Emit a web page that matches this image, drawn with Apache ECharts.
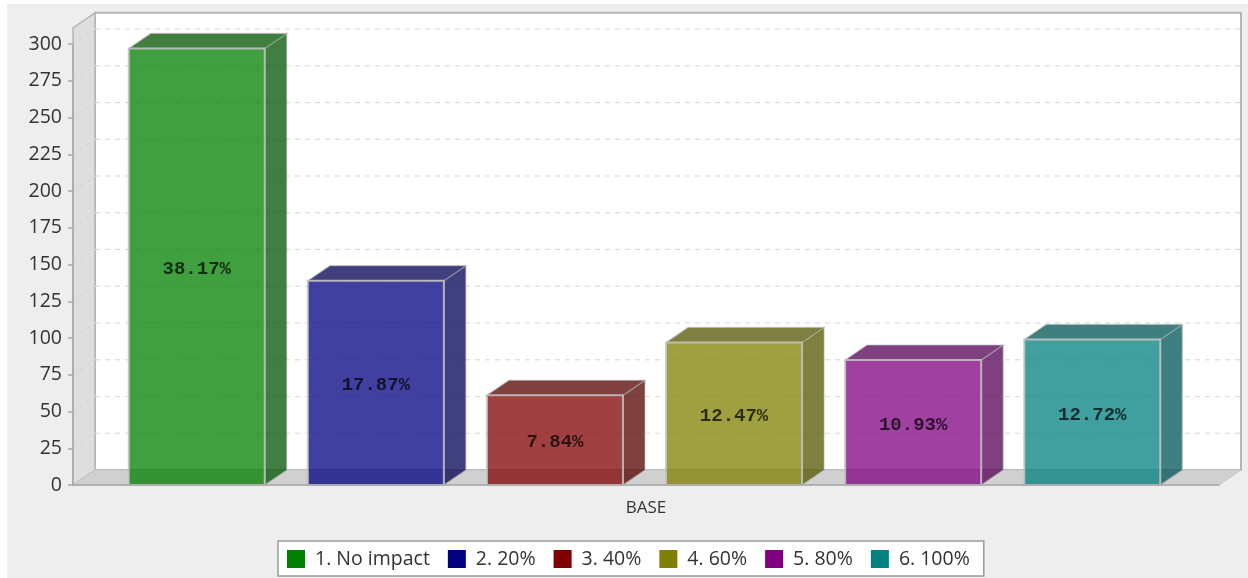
<!DOCTYPE html>
<html>
<head>
<meta charset="utf-8">
<style>
html,body{margin:0;padding:0;background:#fff;width:1248px;height:578px;overflow:hidden}
#bg{position:absolute;left:7px;top:4px;width:1241px;height:574px;background:#eeeeee}
#main{position:absolute;left:0;top:0;width:1248px;height:578px;filter:blur(0.45px)}
</style>
</head>
<body>
<div id="bg"></div>
<div id="main"></div>
<script src="https://cdn.jsdelivr.net/npm/echarts@6/dist/echarts.min.js"></script>
<script>
const categories = ['BASE'];
const seriesNames = ['1. No impact', '2. 20%', '3. 40%', '4. 60%', '5. 80%', '6. 100%'];
const seriesValues = [297, 139, 61, 97, 85, 99];
const shareLabels = ['38.17%', '17.87%', '7.84%', '12.47%', '10.93%', '12.72%'];
const seriesColors = ['#008000', '#000080', '#800000', '#808000', '#800080', '#008080'];
const yTicks = [0, 25, 50, 75, 100, 125, 150, 175, 200, 225, 250, 275, 300];
const wallTopValue = 311;

const DX = 22, DY = -15;          // 3D offset of the back plane
const BAR_FRAC = 136 / 1146;      // bar width as a share of the band
const PITCH_FRAC = 179.1 / 1146;  // bar pitch as a share of the band
const CENTER_SHIFT = -1.5;
const ALPHA = 0.75;
const FONT = '"Open Sans"';

function rgba(hex, factor, alpha) {
  const n = parseInt(hex.slice(1), 16);
  const r = Math.round(((n >> 16) & 255) * factor);
  const g = Math.round(((n >> 8) & 255) * factor);
  const b = Math.round((n & 255) * factor);
  return `rgba(${r},${g},${b},${alpha})`;
}

function renderWalls(params, api) {
  const left = api.coord([categories[0], 0])[0] - api.size([1, 0])[0] / 2;
  const bw = api.size([1, 0])[0];
  const right = left + bw;
  const y0 = api.coord([categories[0], 0])[1];
  const yTop = api.coord([categories[0], wallTopValue])[1];
  const stroke = '#b6b6b6';
  const children = [
    { type: 'rect', shape: { x: left + DX, y: yTop + DY, width: bw, height: y0 - yTop },
      style: { fill: '#ffffff', stroke: stroke, lineWidth: 2 } },
    { type: 'polygon', shape: { points: [[left, yTop], [left + DX, yTop + DY], [left + DX, y0 + DY], [left, y0]] },
      style: { fill: '#dedede', stroke: stroke, lineWidth: 1.5 } },
    { type: 'polygon', shape: { points: [[left, y0], [left + DX, y0 + DY], [right + DX, y0 + DY], [right, y0]] },
      style: { fill: '#d0d0d0', stroke: '#c4c4c4', lineWidth: 1 } }
  ];
  yTicks.forEach(function (t) {
    if (t === 0) return;
    const y = api.coord([categories[0], t])[1];
    children.push({ type: 'line', shape: { x1: left, y1: y, x2: left + DX, y2: y + DY },
      style: { stroke: '#d2d2d2', lineWidth: 1, lineDash: [4, 4] } });
    children.push({ type: 'line', shape: { x1: left + DX, y1: y + DY, x2: right + DX, y2: y + DY },
      style: { stroke: '#dcdcdc', lineWidth: 1.2, lineDash: [5, 5] } });
  });
  return { type: 'group', children: children };
}

function makeBarRenderer(index) {
  return function (params, api) {
    const bw = api.size([1, 0])[0];
    const c = api.coord([api.value(0), api.value(1)]);
    const y0 = api.coord([api.value(0), 0])[1];
    const w = bw * BAR_FRAC;
    const cx = c[0] + CENTER_SHIFT + (index - 2.5) * bw * PITCH_FRAC;
    const x1 = cx - w / 2, x2 = cx + w / 2, yt = c[1];
    const col = seriesColors[index];
    const edge = 'rgba(195,195,195,0.85)';
    return { type: 'group', children: [
      { type: 'polygon', shape: { points: [[x2, yt], [x2 + DX, yt + DY], [x2 + DX, y0 + DY], [x2, y0]] },
        style: { fill: rgba(col, 0.66, ALPHA), stroke: 'rgba(180,180,180,0.55)', lineWidth: 1.2 } },
      { type: 'polygon', shape: { points: [[x1, yt], [x1 + DX, yt + DY], [x2 + DX, yt + DY], [x2, yt]] },
        style: { fill: rgba(col, 0.66, ALPHA), stroke: 'rgba(180,180,180,0.55)', lineWidth: 1.2 } },
      { type: 'rect', shape: { x: x1, y: yt, width: w, height: y0 - yt },
        style: { fill: rgba(col, 1, ALPHA), stroke: edge, lineWidth: 2 } },
      { type: 'text', x: cx, y: (yt + y0) / 2 + 2.5,
        style: { text: shareLabels[index], fill: 'rgba(0,0,0,0.72)', align: 'center', verticalAlign: 'middle',
          font: 'bold 19px "Liberation Mono"' } }
    ] };
  };
}

const series = [{
  type: 'custom', name: 'walls', z: 1, silent: true,
  renderItem: renderWalls, clip: false,
  data: [[categories[0], 0]]
}];
seriesNames.forEach(function (name, i) {
  series.push({
    type: 'custom', name: name, z: 2, silent: true, clip: false,
    renderItem: makeBarRenderer(i),
    itemStyle: { color: seriesColors[i] },
    encode: { x: 0, y: 1 },
    data: [[categories[0], seriesValues[i]]]
  });
});

const chart = echarts.init(document.getElementById('main'), null, { renderer: 'canvas' });
chart.setOption({
  backgroundColor: 'transparent',
  animation: false,
  grid: { left: 73, right: 29, top: 44, bottom: 93, containLabel: false },
  xAxis: {
    type: 'category', data: categories, z: 5,
    axisLine: { lineStyle: { color: '#a8a8a8', width: 1.5 } },
    axisTick: { show: false },
    axisLabel: { color: '#333', fontFamily: FONT, fontSize: 17, margin: 15 }
  },
  yAxis: {
    type: 'value', min: 0, max: 300, interval: 25, z: 5,
    axisLine: { show: true, lineStyle: { color: '#a8a8a8', width: 1.5 } },
    axisTick: { show: true, length: 5, lineStyle: { color: '#a8a8a8', width: 1.5 } },
    axisLabel: { color: '#333', fontFamily: FONT, fontSize: 19.5, margin: 11, padding: [5, 0, 0, 0] },
    splitLine: { show: false }
  },
  legend: {
    data: seriesNames, left: 278, top: 541, orient: 'horizontal', icon: 'rect',
    itemWidth: 18, itemHeight: 18, itemGap: 18,
    padding: [8, 14, 7, 9], backgroundColor: '#ffffff', borderColor: '#9a9a9a', borderWidth: 1.5,
    textStyle: { color: '#333', fontFamily: FONT, fontSize: 19.5, padding: [0, 0, 0, 5] }
  },
  series: series
});
</script>
</body>
</html>
